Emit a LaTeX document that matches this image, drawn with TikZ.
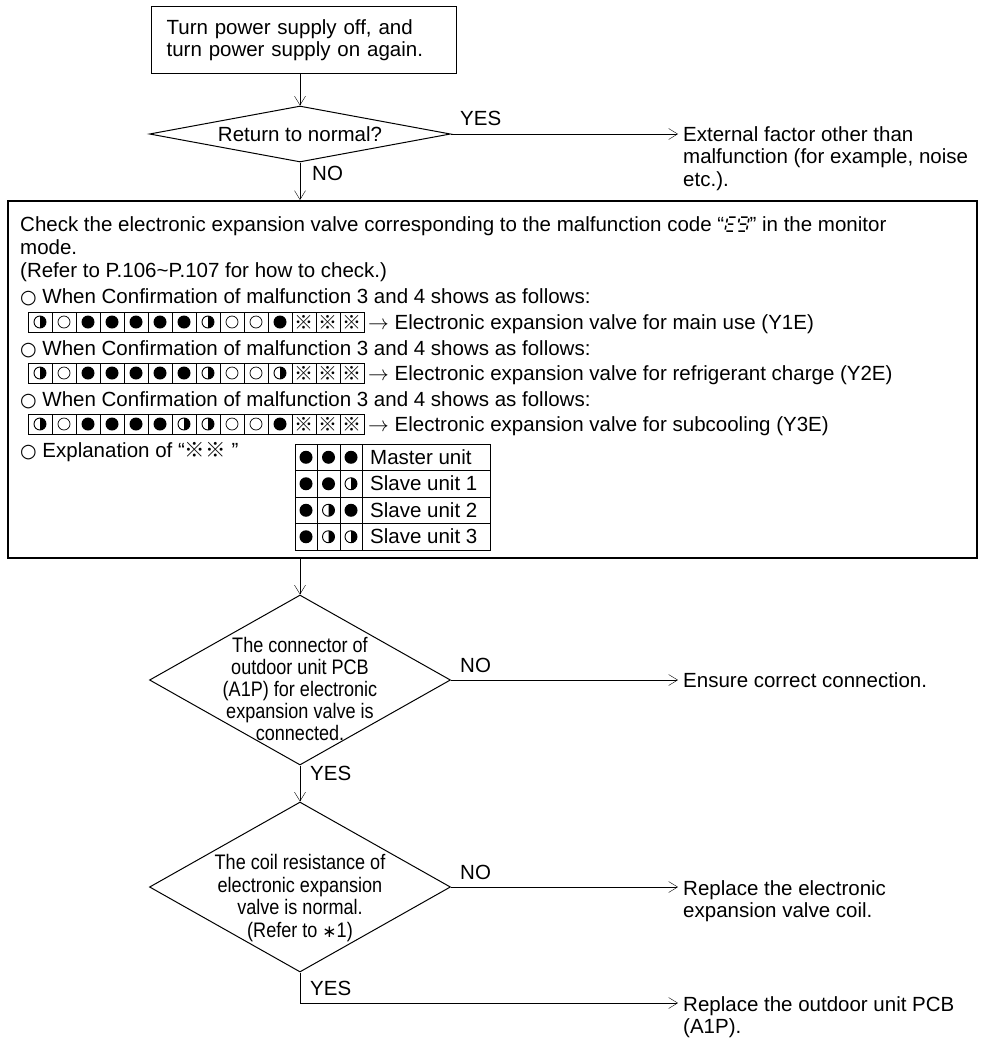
\documentclass[tikz,border=0pt]{standalone}
\usepackage{fontspec}
\setmainfont{Liberation Sans}
\newfontfamily\cond[FakeStretch=0.86]{Liberation Sans}
\newfontfamily\cjk{Noto Sans CJK JP}
\newfontfamily\sym{DejaVu Sans}
\usetikzlibrary{arrows.meta,shapes.geometric}
\newcommand\mf{\fontsize{20.5}{22.5}\selectfont}
\newcommand\bul{{\sym\fontsize{19}{19}\selectfont ○}}
\newcommand\segcode{\tikz[baseline=0pt,x=1pt,y=1pt,line width=1.5pt,xslant=0.2]{%
 \draw (1.5,14)--(8,14) (1.5,7)--(7,7) (1.5,0)--(8,0) (0,1.5)--(0,5.5) (0,8.5)--(0,12.5);
 \draw (13.5,14)--(20,14) (13.5,7)--(20,7) (13.5,0)--(20,0) (12,8.5)--(12,12.5) (21.5,8.5)--(21.5,12.5) (21.5,1.5)--(21.5,5.5);}}
\newcommand\ledf[2]{\fill (#1,#2) circle (6.5);}
\newcommand\ledo[2]{\draw[line width=0.7pt] (#1,#2) circle (6);}
\newcommand\ledh[2]{\draw[line width=0.9pt] (#1,#2) circle (6); \fill (#1,#2-6) arc (-90:90:6) -- cycle;}
\newcommand\ledx[2]{\node[inner sep=0pt, font=\cjk\fontsize{19}{19}\selectfont] at (#1,#2) {※};}
\newcommand\ledcell[3]{\draw[line width=0.9pt] (#1-12,#2-10) rectangle (#1+12,#2+10); \csname led#3\endcsname{#1}{#2}}
\tikzset{
 x=1pt, y=-1pt, line width=1pt,
 arr/.style={-{Straight Barb[length=9pt,width=11pt]}},
 box/.style={draw, line width=1.2pt},
 dia/.style={draw, diamond, line width=1pt, inner sep=0pt, minimum width=301pt, minimum height=170pt},
 txt/.style={inner sep=0pt, align=left, font=\mf},
 dtxt/.style={inner sep=0pt, align=center, font=\cond\fontsize{21}{21.8}\selectfont},
 res/.style={inner xsep=5pt, inner ysep=0pt, align=left, font=\mf},
 lbl/.style={inner sep=0pt, font=\mf},
 tab/.style={line width=0.9pt},
}
\begin{document}
\begin{tikzpicture}
\useasboundingbox (0,0) rectangle (985,1039);
\fill[white] (0,0) rectangle (985,1039);

% top box
\node[box, text width=275pt, inner xsep=15pt, inner ysep=0pt, minimum height=67pt, anchor=north west, align=left, font=\mf] (tb) at (151,6) {Turn power supply off, and\\turn power supply on again.};

% decision 1
\node[dia, minimum height=56pt] (d1) at (300,134) {};
\node[lbl] (d1t) at (d1) {Return to normal?};
\draw[arr] (d1.north |- tb.south) -- (d1.north);
\node[res, anchor=north west] (ext) at (678,126) {External factor other than\\malfunction (for example, noise\\etc.).};
\draw[arr] (d1.east) -- (d1.east -| ext.west);
\node[lbl, anchor=base west] at (460,125) {YES};
\node[lbl, anchor=base west] at (312,180) {NO};

% big box
\node[draw, line width=1.5pt, inner sep=0pt, minimum width=969pt, minimum height=357pt, anchor=north west] (bb) at (7,200) {};
\draw[arr] (d1.south) -- (d1.south |- bb.north);

\node[txt, anchor=north west, font=\fontsize{20.5}{23}\selectfont] (t1) at (20,216) {Check the electronic expansion valve corresponding to the malfunction code “\segcode” in the monitor\\mode.\\(Refer to P.106\textasciitilde P.107 for how to check.)};
\node[txt, anchor=base west] (w1) at (20,303) {\bul\ When Confirmation of malfunction 3 and 4 shows as follows:};
\node[txt, anchor=base west] (w2) at (20,355) {\bul\ When Confirmation of malfunction 3 and 4 shows as follows:};
\node[txt, anchor=base west] (w3) at (20,406) {\bul\ When Confirmation of malfunction 3 and 4 shows as follows:};

\foreach \ty [count=\i] in {h,o,f,f,f,f,f,h,o,o,f,x,x,x} {\ledcell{16+24*\i}{322}{\ty}}
\foreach \ty [count=\i] in {h,o,f,f,f,f,f,h,o,o,h,x,x,x} {\ledcell{16+24*\i}{373}{\ty}}
\foreach \ty [count=\i] in {h,o,f,f,f,f,h,h,o,o,f,x,x,x} {\ledcell{16+24*\i}{424}{\ty}}

\node[txt, anchor=base west] (v1) at (368,329) {$\rightarrow$ Electronic expansion valve for main use (Y1E)};
\node[txt, anchor=base west] (v2) at (368,380) {$\rightarrow$ Electronic expansion valve for refrigerant charge (Y2E)};
\node[txt, anchor=base west] (v3) at (368,431) {$\rightarrow$ Electronic expansion valve for subcooling (Y3E)};

\node[txt, anchor=base west] (ex) at (20,457) {\bul\ Explanation of “{\cjk ※※} ”};

% table
\draw[tab] (295,444) rectangle (490,550);
\foreach \xx in {317,340,362} \draw[tab] (\xx,444) -- (\xx,550);
\foreach \yy in {470.5,497,523.5} \draw[tab] (295,\yy) -- (490,\yy);
\foreach \a/\b/\c/\lab [count=\r from 0, evaluate=\r as \yc using 457.25+26.5*\r] in {f/f/f/Master unit, f/f/h/Slave unit 1, f/h/f/Slave unit 2, f/h/h/Slave unit 3} {
  \csname led\a\endcsname{306}{\yc}
  \csname led\b\endcsname{328.5}{\yc}
  \csname led\c\endcsname{351}{\yc}
  \node[txt, anchor=base west] at (370,\yc+7) {\lab};
}

% decision 2
\node[dia] (d2) at (300,680) {};
\node[dtxt] (d2t) at (300,689) {The connector of\\outdoor unit PCB\\(A1P) for electronic\\expansion valve is\\connected.};
\draw[arr] (d2.north |- bb.south) -- (d2.north);
\node[res, anchor=north west] (ens) at (678,672) {Ensure correct connection.};
\draw[arr] (d2.east) -- (d2.east -| ens.west);
\node[lbl, anchor=base west] at (460,672) {NO};

% decision 3
\node[dia] (d3) at (300,887) {};
\node[dtxt, font=\cond\fontsize{21}{22.6}\selectfont] (d3t) at (300,898) {The coil resistance of\\electronic expansion\\valve is normal.\\(Refer to {\sym\fontsize{17}{17}\selectfont ∗}1)};
\draw[arr] (d2.south) -- (d3.north);
\node[lbl, anchor=base west] at (310,780) {YES};
\node[res, anchor=north west] (coil) at (678,880) {Replace the electronic\\expansion valve coil.};
\draw[arr] (d3.east) -- (d3.east -| coil.west);
\node[lbl, anchor=base west] at (460,879) {NO};

\node[res, anchor=north west] (pcb) at (678,996) {Replace the outdoor unit PCB\\(A1P).};
\draw[arr] (d3.south) |- ([yshift=-7pt]pcb.north west);
\node[lbl, anchor=base west] at (310,995) {YES};
\end{tikzpicture}
\end{document}
